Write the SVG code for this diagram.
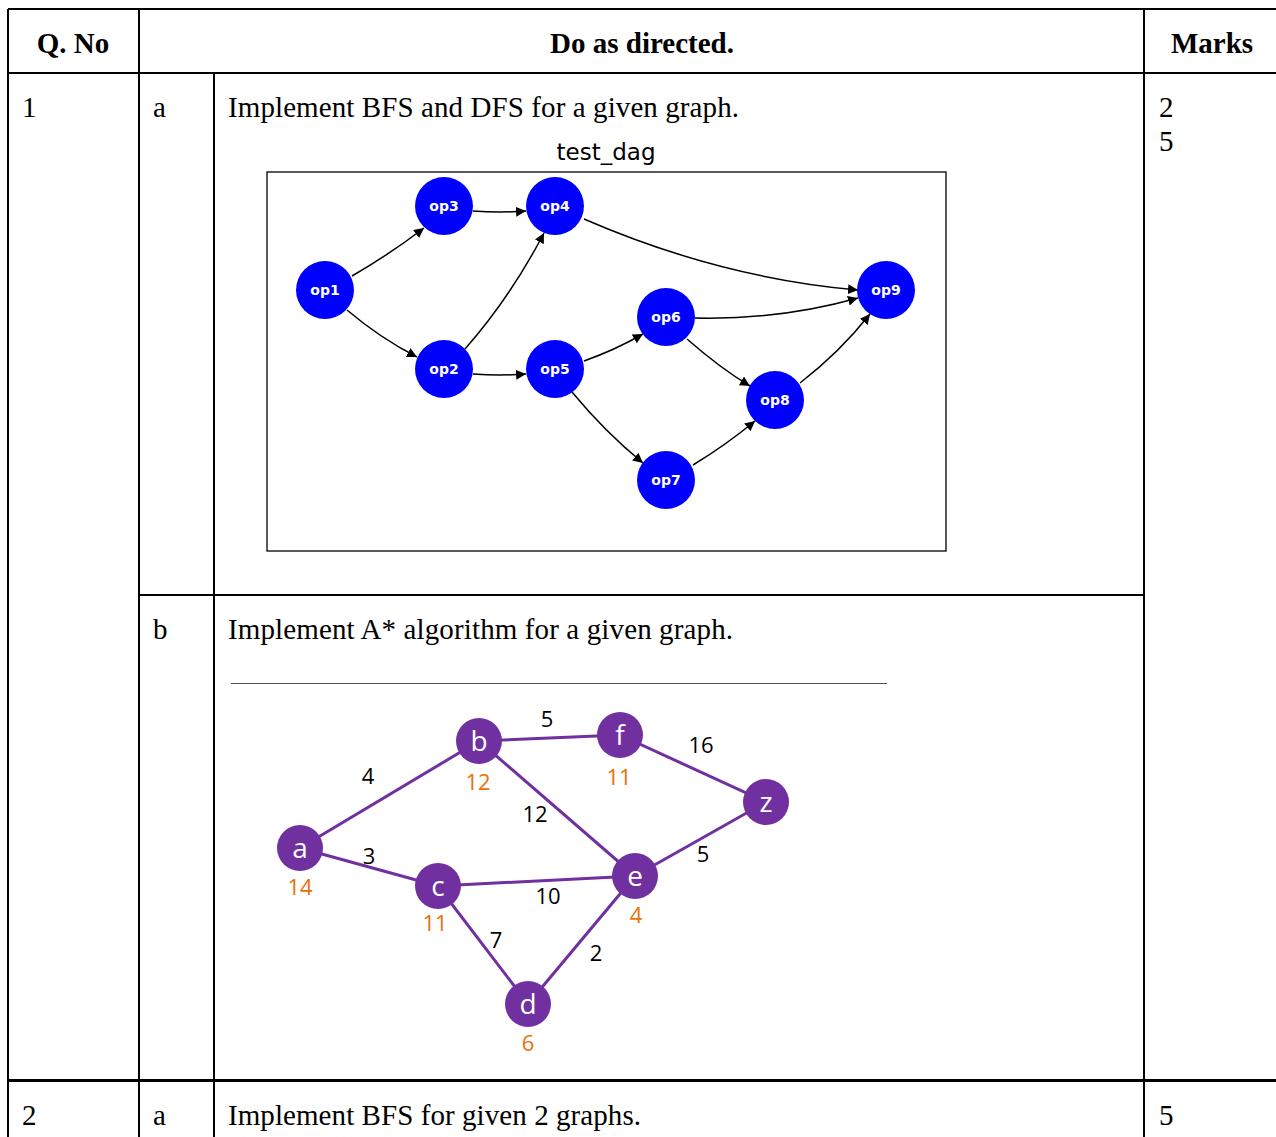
<svg xmlns="http://www.w3.org/2000/svg" width="1276" height="1137" viewBox="0 0 1276 1137">
  <defs>
    <marker id="arr" viewBox="0 0 10 10" refX="10" refY="5" markerWidth="10" markerHeight="10" markerUnits="userSpaceOnUse" orient="auto">
      <path d="M0,0 L10,5 L0,10 z" fill="#000"/>
    </marker>
    <style>
      .grid { stroke: #000; stroke-width: 2; fill: none; }
      .hd { font-family: "Liberation Serif", "Times New Roman", serif; font-size: 29px; font-weight: bold; fill: #000; text-anchor: middle; }
      .tx { font-family: "Liberation Serif", "Times New Roman", serif; font-size: 29px; fill: #000; }
      .title { font-family: "DejaVu Sans", sans-serif; font-size: 23px; fill: #000; text-anchor: middle; }
      .dn { fill: #0000ff; }
      .dl { font-family: "DejaVu Sans", sans-serif; font-size: 14px; font-weight: bold; fill: #fff; text-anchor: middle; }
      .de { stroke: #000; stroke-width: 1.5; fill: none; marker-end: url(#arr); }
      .an { fill: #7030a0; }
      .al { font-family: "Open Sans", "Noto Sans", sans-serif; font-size: 28px; fill: #fff; text-anchor: middle; }
      .ae { stroke: #7030a0; stroke-width: 3; fill: none; }
      .w { font-family: "Open Sans", "Noto Sans", sans-serif; font-size: 22px; fill: #000; text-anchor: middle; }
      .h { font-family: "Open Sans", "Noto Sans", sans-serif; font-size: 22px; fill: #e8710a; text-anchor: middle; }
    </style>
  </defs>

  <rect width="1276" height="1137" fill="#fff"/>

  <!-- table grid -->
  <g id="table">
    <line class="grid" x1="8" y1="9" x2="1276" y2="9"/>
    <line class="grid" x1="8" y1="73" x2="1276" y2="73"/>
    <line class="grid" x1="8" y1="9" x2="8" y2="1137"/>
    <line class="grid" x1="139" y1="9" x2="139" y2="1137"/>
    <line class="grid" x1="214" y1="73" x2="214" y2="1137"/>
    <line class="grid" x1="1144" y1="9" x2="1144" y2="1137"/>
    <line class="grid" x1="139" y1="595" x2="1144" y2="595"/>
    <line x1="8" y1="1080.5" x2="1276" y2="1080.5" stroke="#000" stroke-width="3"/>

    <text class="hd" x="73" y="53">Q. No</text>
    <text class="hd" x="642" y="53">Do as directed.</text>
    <text class="hd" x="1212" y="53">Marks</text>

    <text class="tx" x="22" y="117">1</text>
    <text class="tx" x="153" y="117">a</text>
    <text class="tx" x="228" y="117" textLength="511">Implement BFS and DFS for a given graph.</text>
    <text class="tx" x="1159" y="117">2</text>
    <text class="tx" x="1159" y="151">5</text>

    <text class="tx" x="153" y="639">b</text>
    <text class="tx" x="228" y="639" textLength="505">Implement A* algorithm for a given graph.</text>

    <text class="tx" x="22" y="1125">2</text>
    <text class="tx" x="153" y="1125">a</text>
    <text class="tx" x="228" y="1125" textLength="413">Implement BFS for given 2 graphs.</text>
    <text class="tx" x="1159" y="1125">5</text>
  </g>

  <!-- directed acyclic graph -->
  <g id="dag">
    <text class="title" x="606" y="160">test_dag</text>
    <rect x="267" y="172" width="679" height="379" fill="none" stroke="#000" stroke-width="1.3"/>

    <g id="dag-edges">
      <path class="de" d="M352,276 Q390,254 424,228"/>
      <path class="de" d="M347,310 Q380,338 417,357"/>
      <path class="de" d="M473,211 Q500,213 526,211"/>
      <path class="de" d="M465,349 Q510,298 544,233"/>
      <path class="de" d="M473,374 Q500,376 526,374"/>
      <path class="de" d="M584,219 Q720,278 858,290"/>
      <path class="de" d="M584,361 Q615,350 643,334"/>
      <path class="de" d="M572,392 Q605,432 643,463"/>
      <path class="de" d="M695,318 Q780,320 858,298"/>
      <path class="de" d="M687,339 Q720,368 750,386"/>
      <path class="de" d="M693,465 Q726,445 755,421"/>
      <path class="de" d="M800,383 Q840,352 870,314"/>
    </g>

    <g id="op1"><circle class="dn" cx="325" cy="290" r="29"/><text class="dl" x="325" y="295">op1</text></g>
    <g id="op2"><circle class="dn" cx="444" cy="369" r="29"/><text class="dl" x="444" y="374">op2</text></g>
    <g id="op3"><circle class="dn" cx="444" cy="206" r="29"/><text class="dl" x="444" y="211">op3</text></g>
    <g id="op4"><circle class="dn" cx="555" cy="206" r="29"/><text class="dl" x="555" y="211">op4</text></g>
    <g id="op5"><circle class="dn" cx="555" cy="369" r="29"/><text class="dl" x="555" y="374">op5</text></g>
    <g id="op6"><circle class="dn" cx="666" cy="317" r="29"/><text class="dl" x="666" y="322">op6</text></g>
    <g id="op7"><circle class="dn" cx="666" cy="480" r="29"/><text class="dl" x="666" y="485">op7</text></g>
    <g id="op8"><circle class="dn" cx="775" cy="400" r="29"/><text class="dl" x="775" y="405">op8</text></g>
    <g id="op9"><circle class="dn" cx="886" cy="290" r="29"/><text class="dl" x="886" y="295">op9</text></g>
  </g>

  <!-- weighted graph for A* -->
  <g id="astar">
    <line x1="231" y1="683.5" x2="887" y2="683.5" stroke="#555" stroke-width="1"/>

    <g id="astar-edges">
      <line class="ae" x1="300" y1="848" x2="479" y2="741"/>
      <line class="ae" x1="479" y1="741" x2="620" y2="735"/>
      <line class="ae" x1="620" y1="735" x2="766" y2="802"/>
      <line class="ae" x1="479" y1="741" x2="635" y2="876"/>
      <line class="ae" x1="300" y1="848" x2="438" y2="886"/>
      <line class="ae" x1="438" y1="886" x2="635" y2="876"/>
      <line class="ae" x1="635" y1="876" x2="766" y2="802"/>
      <line class="ae" x1="438" y1="886" x2="528" y2="1004"/>
      <line class="ae" x1="528" y1="1004" x2="635" y2="876"/>
    </g>

    <g id="weights">
      <text class="w" x="368" y="784">4</text>
      <text class="w" x="547" y="727">5</text>
      <text class="w" x="701" y="753">16</text>
      <text class="w" x="535" y="822">12</text>
      <text class="w" x="369" y="864">3</text>
      <text class="w" x="548" y="904">10</text>
      <text class="w" x="703" y="862">5</text>
      <text class="w" x="496" y="948">7</text>
      <text class="w" x="596" y="961">2</text>
    </g>

    <g id="node-a"><circle class="an" cx="300" cy="848" r="23"/><text class="al" x="300" y="858">a</text><text class="h" x="300" y="895">14</text></g>
    <g id="node-b"><circle class="an" cx="479" cy="741" r="23"/><text class="al" x="479" y="751">b</text><text class="h" x="478" y="790">12</text></g>
    <g id="node-f"><circle class="an" cx="620" cy="735" r="23"/><text class="al" x="620" y="745">f</text><text class="h" x="619" y="785">11</text></g>
    <g id="node-z"><circle class="an" cx="766" cy="802" r="23"/><text class="al" x="766" y="812">z</text></g>
    <g id="node-c"><circle class="an" cx="438" cy="886" r="23"/><text class="al" x="438" y="896">c</text><text class="h" x="435" y="931">11</text></g>
    <g id="node-e"><circle class="an" cx="635" cy="876" r="23"/><text class="al" x="635" y="886">e</text><text class="h" x="636" y="923">4</text></g>
    <g id="node-d"><circle class="an" cx="528" cy="1004" r="23"/><text class="al" x="528" y="1014">d</text><text class="h" x="528" y="1051">6</text></g>
  </g>
</svg>
